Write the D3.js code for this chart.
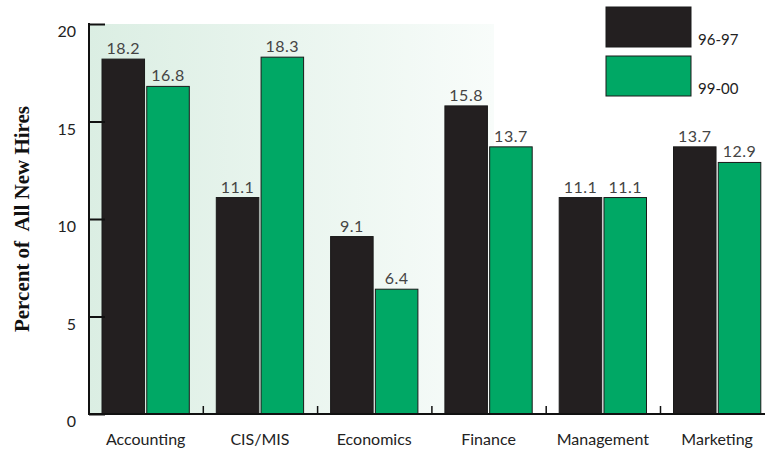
<!DOCTYPE html>
<html>
<head>
<meta charset="utf-8">
<script src="https://cdn.jsdelivr.net/npm/d3@7"></script>
<style>
  html, body { margin: 0; padding: 0; background: #fff; }
  svg { display: block; }
</style>
</head>
<body>
<svg id="chart" width="765" height="454"></svg>
<script>
// Share of all new hires by business major, two hiring years
const categories = ["Accounting", "CIS/MIS", "Economics", "Finance", "Management", "Marketing"];
const seriesNames = ["96-97", "99-00"];
const values9697 = [18.2, 11.1, 9.1, 15.8, 11.1, 13.7];
const values9900 = [16.8, 18.3, 6.4, 13.7, 11.1, 12.9];
const yTicks = [0, 5, 10, 15, 20];
const colors = ["#231f20", "#00a865"];

const labelFont = "Lato, Open Sans, sans-serif";
const svg = d3.select("#chart");
const plotLeft = 89, plotTop = 24, plotBottom = 414, bandW = 114.3;
const plotRight = plotLeft + bandW * categories.length;

const x = d3.scaleBand().domain(categories).range([plotLeft, plotRight]).paddingInner(0).paddingOuter(0);
const sub = d3.scaleBand().domain(seriesNames).range([13, bandW - 14]).paddingInner(0.05);
const y = d3.scaleLinear().domain([0, 20]).range([plotBottom, plotTop]);

// soft green panel behind the first categories
const defs = svg.append("defs");
const grad = defs.append("linearGradient").attr("id", "panel").attr("x1", "0").attr("x2", "1").attr("y1", "0").attr("y2", "0");
grad.append("stop").attr("offset", "0%").attr("stop-color", "#dbeee3");
grad.append("stop").attr("offset", "100%").attr("stop-color", "#f8fcfa");
svg.append("rect").attr("x", plotLeft).attr("y", plotTop).attr("width", 494 - plotLeft).attr("height", plotBottom - plotTop)
  .attr("fill", "url(#panel)");

// bars
const rows = categories.map((c, i) => ({ cat: c, vals: [values9697[i], values9900[i]] }));
const groups = svg.append("g").selectAll("g").data(rows).join("g")
  .attr("transform", d => `translate(${x(d.cat)},0)`);
groups.selectAll("rect").data(d => d.vals.map((v, j) => ({ v, s: seriesNames[j], j })))
  .join("rect")
  .attr("x", d => sub(d.s))
  .attr("width", sub.bandwidth())
  .attr("y", d => y(d.v))
  .attr("height", d => plotBottom - y(d.v))
  .attr("fill", d => colors[d.j])
  .attr("stroke", "#1a1a1a").attr("stroke-width", 1);
groups.selectAll("text").data(d => d.vals.map((v, j) => ({ v, s: seriesNames[j] })))
  .join("text")
  .attr("x", d => sub(d.s) + sub.bandwidth() / 2)
  .attr("y", d => y(d.v) - 5)
  .attr("text-anchor", "middle")
  .attr("font-family", labelFont).attr("font-size", 16).attr("letter-spacing", 0.5)
  .attr("fill", "#444")
  .text(d => d.v.toFixed(1));

// y axis: ticks point inward
const yAxis = svg.append("g").attr("transform", `translate(${plotLeft},0)`)
  .call(d3.axisRight(y).tickValues(yTicks).tickSize(16).tickFormat(""));
yAxis.select(".domain").remove();
yAxis.selectAll("line").attr("stroke", "#111").attr("stroke-width", 2);
svg.append("line").attr("x1", plotLeft).attr("x2", plotLeft).attr("y1", plotTop - 1).attr("y2", plotBottom + 1)
  .attr("stroke", "#111").attr("stroke-width", 2);
svg.append("g").selectAll("text").data(yTicks).join("text")
  .attr("x", 76).attr("y", d => y(d) + 13)
  .attr("text-anchor", "end")
  .attr("font-family", labelFont).attr("font-size", 16).attr("fill", "#222")
  .text(d => d);

// x axis baseline with separators between categories
svg.append("line").attr("x1", plotLeft).attr("x2", 765).attr("y1", plotBottom).attr("y2", plotBottom)
  .attr("stroke", "#111").attr("stroke-width", 2);
svg.append("g").selectAll("line").data(categories.slice(1)).join("line")
  .attr("x1", d => x(d)).attr("x2", d => x(d))
  .attr("y1", plotBottom).attr("y2", plotBottom - 8)
  .attr("stroke", "#111").attr("stroke-width", 1.5);
svg.append("g").selectAll("text").data(categories).join("text")
  .attr("x", d => x(d) + sub("96-97") + (sub("99-00") + sub.bandwidth() - sub("96-97")) / 2)
  .attr("y", 445)
  .attr("text-anchor", "middle")
  .attr("font-family", labelFont).attr("font-size", 16).attr("fill", "#222")
  .text(d => d);

// axis title
svg.append("text")
  .attr("transform", "translate(29,219) rotate(-90)")
  .attr("text-anchor", "middle")
  .attr("font-family", "Liberation Serif, serif").attr("font-weight", "bold").attr("font-size", 21)
  .attr("fill", "#111")
  .attr("xml:space", "preserve")
  .text("Percent of  All New Hires");

// legend
const legend = svg.append("g").selectAll("g").data(seriesNames).join("g")
  .attr("transform", (d, i) => `translate(606,${7 + i * 49})`);
legend.append("rect").attr("width", 85).attr("height", 40)
  .attr("fill", (d, i) => colors[i]).attr("stroke", "#1a1a1a").attr("stroke-width", 1);
legend.append("text").attr("x", 92).attr("y", 38)
  .attr("font-family", labelFont).attr("font-size", 15).attr("fill", "#222")
  .text(d => d);
</script>
</body>
</html>
